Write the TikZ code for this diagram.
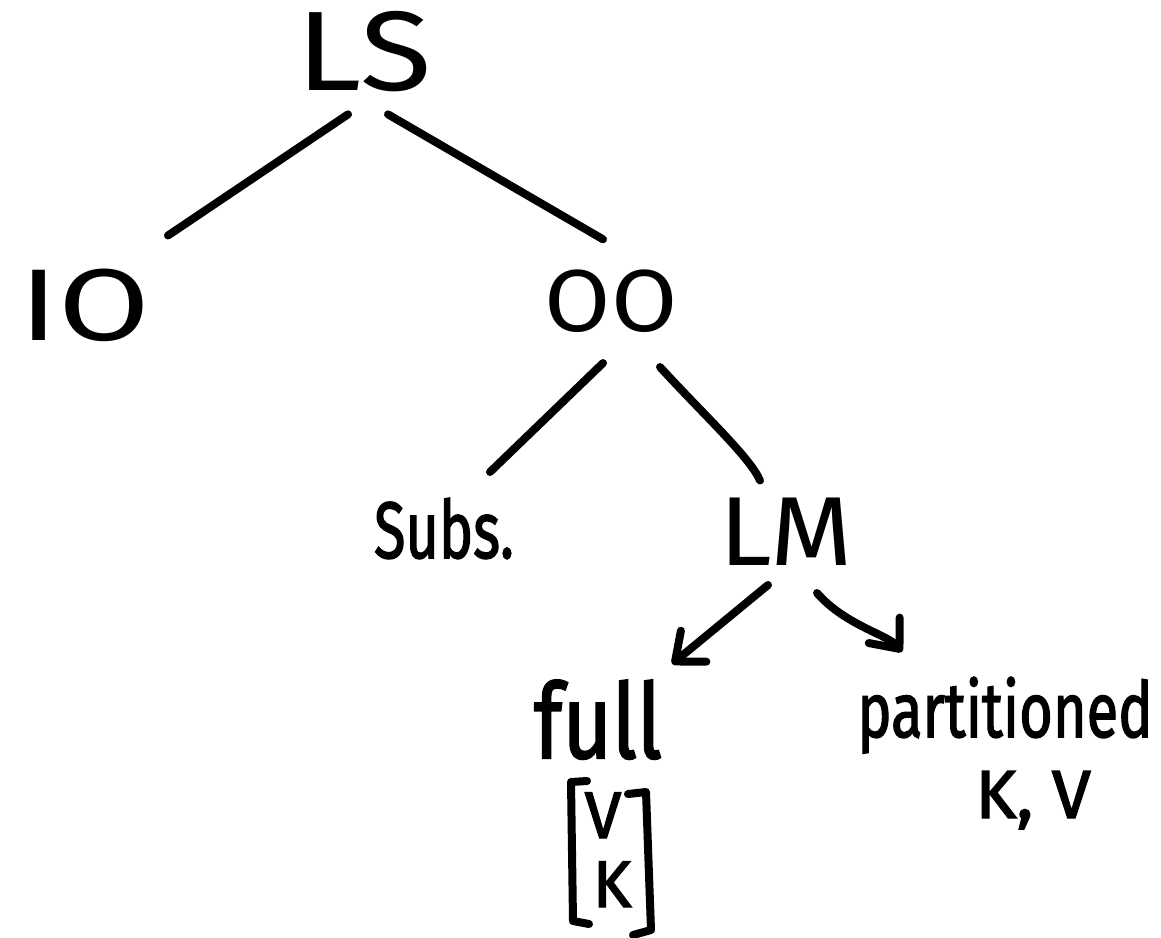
\documentclass[tikz,border=0pt]{standalone}
\usepackage{fontspec}
\setmainfont{Fira Sans}
\newfontfamily\hwthick{Fira Sans}[FakeBold=2]
\usetikzlibrary{arrows.meta,calc}
\begin{document}
\begin{tikzpicture}[x=1pt,y=-1pt,
  hw/.style={inner sep=0pt, outer sep=0pt, anchor=base, text=black},
  edge/.style={line width=8pt, line cap=round, line join=round, black},
  arr/.style={edge, -{Straight Barb[length=24pt,width=40pt,round]}}]
\useasboundingbox (0,0) rectangle (1161,937);
% labels
\node[hw, font=\fontsize{113}{113}\selectfont] (LS) at (364,90) {\scalebox{1.16}[1]{LS}};
\node[hw, font=\fontsize{102}{102}\selectfont] (IO) at (85,340) {\scalebox{1.3}[1]{IO}};
\node[hw, font=\fontsize{88}{88}\selectfont] (OO) at (611,331) {\scalebox{1.09}[1]{OO}};
\node[hw, font=\hwthick\fontsize{80}{80}\selectfont] (Subs) at (444,558) {\scalebox{0.72}[1]{Subs.}};
\node[hw, font=\fontsize{98}{98}\selectfont] (LM) at (786,565) {\scalebox{1.08}[1]{LM}};
\node[hw, font=\hwthick\fontsize{104}{104}\selectfont] (full) at (598,758) {\scalebox{0.82}[1]{full}};
\node[hw, font=\hwthick\fontsize{77}{77}\selectfont] (part) at (1005,737) {\scalebox{0.75}[1]{partitioned}};
\node[hw, font=\hwthick\fontsize{68}{68}\selectfont] (KV) at (1033,818) {\scalebox{1.03}[1]{K, V}};
\node[hw, font=\hwthick\fontsize{66}{66}\selectfont] (mV) at (603,838) {V};
\node[hw, font=\hwthick\fontsize{66}{66}\selectfont] (mK) at (612,907) {K};
% brackets of the vector
\draw[edge] (587,781) -- (571,782) -- (573,921) -- (589,924);
\draw[edge] (628,794) -- (646,792) -- (651,930) -- (633,935);
% tree edges
\draw[edge] ($(LS.south)+(-16,23)$) -- ($(IO.north)+(83,-33)$);
\draw[edge] ($(LS.south)+(24,23)$) -- ($(OO.north)+(-8,-30)$);
\draw[edge] ($(OO.south)+(-8,31)$) -- ($(Subs.north)+(46,-26)$);
\draw[edge] ($(OO.south)+(49,35)$) .. controls ($(OO.south)+(95,85)$) and ($(LM.north)+(-36,-40)$) .. ($(LM.north)+(-26,-17)$);
% arrows
\draw[arr] ($(LM.south)+(-18,20)$) -- ($(full.north)+(74,-16)$);
\draw[arr] ($(LM.south)+(31,28)$) .. controls ($(LM.south)+(59,60)$) and ($(part.north)+(-117,-42)$) .. ($(part.north)+(-103,-25)$);
\end{tikzpicture}
\end{document}
